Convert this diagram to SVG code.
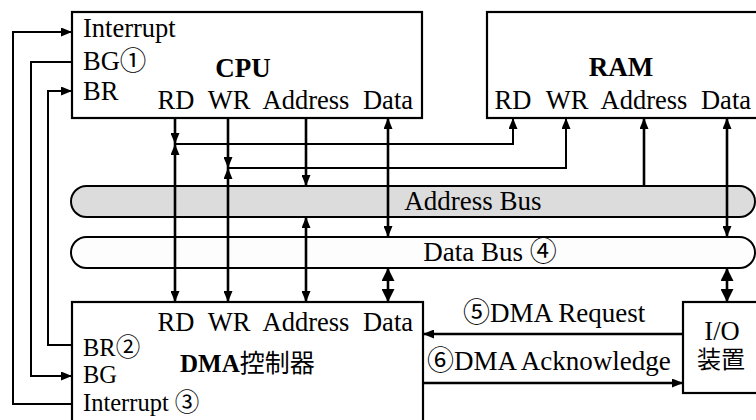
<svg xmlns="http://www.w3.org/2000/svg" width="756" height="420" viewBox="0 0 756 420">
<style>
  .box{fill:#fff;stroke:#000;stroke-width:2.2}
  .t{font-family:"Liberation Serif","Noto Sans CJK JP",serif;font-size:26.5px;fill:#000}
  .s{font-size:24.5px}
  .b{font-family:"Liberation Serif","Noto Sans CJK JP",serif;font-size:27px;font-weight:bold;fill:#000}
  .j{font-family:"Noto Sans CJK JP",sans-serif;font-weight:normal}
  .m{text-anchor:middle}
  .c{fill:none;stroke:#000;stroke-width:2.6}
  .thin{fill:none;stroke:#000;stroke-width:2}
  .a1{marker-end:url(#ah)}
  .a2{marker-start:url(#ah);marker-end:url(#ah)}
  .a3{marker-start:url(#ahb);marker-end:url(#ahb)}
</style>
<defs>
  <marker id="ah" markerUnits="userSpaceOnUse" markerWidth="11" markerHeight="9" refX="11" refY="4.5" orient="auto-start-reverse">
    <path d="M0,0 L11,4.5 L0,9 z" fill="#000"/>
  </marker>
  <marker id="ahb" markerUnits="userSpaceOnUse" markerWidth="13" markerHeight="13" refX="13" refY="6.5" orient="auto-start-reverse">
    <path d="M0,0 L13,6.5 L0,13 z" fill="#000"/>
  </marker>
</defs>
<rect width="756" height="420" fill="#fff"/>

<g id="address-bus">
  <rect x="71" y="186" width="684" height="31" rx="15.5" fill="#dcdcdc" stroke="#000" stroke-width="2"/>
  <text class="t m" x="473" y="210" style="font-size:27px">Address Bus</text>
</g>
<g id="data-bus">
  <rect x="71" y="237" width="684" height="31" rx="15.5" fill="#fdfdfd" stroke="#000" stroke-width="2"/>
  <text class="t m" x="490" y="261" style="font-size:27px">Data Bus ④</text>
</g>

<g id="cpu">
  <rect class="box" x="72" y="12" width="350" height="106"/>
  <text class="t" x="83" y="37">Interrupt</text>
  <text class="t" x="83" y="70">BG①</text>
  <text class="t" x="83" y="100">BR</text>
  <text class="b m" x="243" y="77">CPU</text>
  <text class="t m" x="176" y="109">RD</text>
  <text class="t m" x="229" y="109">WR</text>
  <text class="t m" x="306" y="109">Address</text>
  <text class="t m" x="388" y="109">Data</text>
</g>

<g id="ram">
  <rect class="box" x="487" y="12" width="280" height="106"/>
  <text class="b m" x="621" y="76">RAM</text>
  <text class="t m" x="513" y="109">RD</text>
  <text class="t m" x="567" y="109">WR</text>
  <text class="t m" x="644" y="109">Address</text>
  <text class="t m" x="726" y="109">Data</text>
</g>

<g id="dma">
  <rect class="box" x="72" y="302" width="351" height="130"/>
  <text class="t m" x="176" y="331">RD</text>
  <text class="t m" x="229" y="331">WR</text>
  <text class="t m" x="306" y="331">Address</text>
  <text class="t m" x="388" y="331">Data</text>
  <text class="t s" x="83" y="356">BR②</text>
  <text class="t s" x="83" y="383">BG</text>
  <text class="t s" x="83" y="411">Interrupt ③</text>
  <text class="b" x="180" y="372" style="font-size:25px">DMA<tspan class="j">控制器</tspan></text>
</g>

<g id="io">
  <rect class="box" x="683" y="302" width="90" height="91"/>
  <text class="t m" x="722" y="340">I/O</text>
  <text class="t m" x="721" y="368" style="font-size:24px">装置</text>
</g>

<g id="connectors">
  <path class="c a1" d="M175,118 V144"/>
  <path class="thin a1" d="M175,144 H513 V118"/>
  <path class="c a2" d="M175,144 V302"/>
  <path class="c a1" d="M228,118 V168"/>
  <path class="thin a1" d="M228,168 H566 V118"/>
  <path class="c a2" d="M228,168 V302"/>
  <path class="c a1" d="M306,118 V186"/>
  <path class="c a2" d="M306,217 V302"/>
  <path class="c a2" d="M388,118 V237"/>
  <path class="c a3" d="M388,268 V302"/>
  <path class="c a1" d="M644,186 V118"/>
  <path class="c a2" d="M727,118 V237"/>
  <path class="c a3" d="M727,268 V302"/>
  <path class="thin a1" d="M72,404 H13 V32 H72"/>
  <path class="thin a1" d="M72,62 H31 V376 H72"/>
  <path class="thin a1" d="M72,345 H48 V91 H72"/>
  <path class="c a1" d="M683,334 H423"/>
  <path class="c a1" d="M423,383 H683"/>
  <text class="t" x="463" y="322" style="font-size:27px">⑤DMA Request</text>
  <text class="t" x="427" y="370" style="font-size:27px">⑥DMA Acknowledge</text>
</g>
</svg>
